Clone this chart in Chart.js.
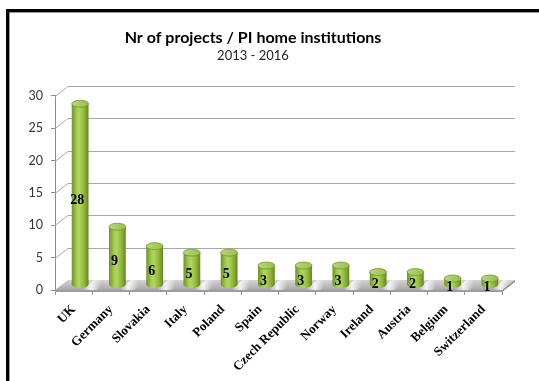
<!DOCTYPE html>
<html>
<head>
<meta charset="utf-8">
<title>Nr of projects / PI home institutions</title>
<script src="https://cdn.jsdelivr.net/npm/chart.js@4.4.0/dist/chart.umd.min.js"></script>
<style>
  html, body { margin: 0; padding: 0; background: #fff; }
  #wrap { position: relative; width: 539px; height: 381px; overflow: hidden; }
  #wrap canvas { position: absolute; left: 0; top: 0; }
  #frame {
    position: absolute; left: 6px; top: 9px; width: 560px; height: 400px;
    border-top: 3px solid #000; border-left: 3px solid #000;
    box-shadow: inset 1px 1px 0 #9a9a9a; pointer-events: none;
  }
</style>
</head>
<body>
<div id="wrap">
  <canvas id="chart" width="539" height="381"></canvas>
  <div id="frame"></div>
</div>
<script>
const countries = ['UK', 'Germany', 'Slovakia', 'Italy', 'Poland', 'Spain',
  'Czech Republic', 'Norway', 'Ireland', 'Austria', 'Belgium', 'Switzerland'];
const projects = [28, 9, 6, 5, 5, 3, 3, 3, 2, 2, 1, 1];
const yMax = 30;
const yStep = 5;

// offset of the back wall relative to the front plane (fake 3D depth)
const depth = { x: 13, y: -10 };
const serif = '"Liberation Serif", "Times New Roman", serif';
const sans = 'Lato, "Open Sans", sans-serif';

const walls = {
  id: 'walls',
  beforeDatasetsDraw(chart) {
    const { ctx, chartArea: a, scales: { y } } = chart;
    ctx.save();

    // side wall diagonals + back wall gridlines
    ctx.strokeStyle = '#a8a8a8';
    ctx.lineWidth = 1;
    y.ticks.forEach(t => {
      if (t.value === 0) return;
      const py = Math.round(y.getPixelForValue(t.value)) + 0.5;
      ctx.beginPath();
      ctx.moveTo(a.left, py);
      ctx.lineTo(a.left + depth.x, py + depth.y);
      ctx.lineTo(a.right + depth.x, py + depth.y);
      ctx.stroke();
    });

    // floor slab
    const b = y.getPixelForValue(0);
    const L = a.left, R = a.right;
    const top = ctx.createLinearGradient(0, b + depth.y, 0, b);
    top.addColorStop(0, '#d4d4d4');
    top.addColorStop(1, '#a8a8a8');
    ctx.beginPath();
    ctx.moveTo(L, b);
    ctx.lineTo(R, b);
    ctx.lineTo(R + depth.x, b + depth.y);
    ctx.lineTo(L + depth.x, b + depth.y);
    ctx.closePath();
    ctx.fillStyle = top;
    ctx.fill();

    // light streaks beside each bar
    const meta = chart.getDatasetMeta(0);
    meta.data.forEach(bar => {
      const { x, width } = bar.getProps(['x', 'width'], true);
      const x0 = x + width / 2 + 1;
      const g = ctx.createLinearGradient(x0, 0, x0 + 18, 0);
      g.addColorStop(0, 'rgba(255,255,255,0)');
      g.addColorStop(0.45, 'rgba(255,255,255,0.85)');
      g.addColorStop(1, 'rgba(255,255,255,0)');
      ctx.beginPath();
      ctx.moveTo(x0 - 2, b);
      ctx.lineTo(x0 + 14, b);
      ctx.lineTo(x0 + 14 + depth.x, b + depth.y);
      ctx.lineTo(x0 - 2 + depth.x, b + depth.y);
      ctx.closePath();
      ctx.fillStyle = g;
      ctx.fill();
    });

    // front and right faces
    ctx.fillStyle = '#9d9d9d';
    ctx.fillRect(L, b, R - L, 2);
    ctx.beginPath();
    ctx.moveTo(R, b);
    ctx.lineTo(R + depth.x, b + depth.y);
    ctx.lineTo(R + depth.x, b + depth.y + 2);
    ctx.lineTo(R, b + 2);
    ctx.closePath();
    ctx.fillStyle = '#8f8f8f';
    ctx.fill();
    ctx.restore();
  },

  afterDatasetsDraw(chart) {
    const { ctx } = chart;
    const meta = chart.getDatasetMeta(0);
    ctx.save();
    meta.data.forEach((bar, i) => {
      const { x, y: yTop, base, width } = bar.getProps(['x', 'y', 'base', 'width'], true);
      const cx = x + depth.x / 2;
      const ty = yTop + depth.y / 2;
      const by = base + depth.y / 2;
      const rx = width / 2, ry = 3.5;

      // cylinder body
      const body = ctx.createLinearGradient(cx - rx, 0, cx + rx, 0);
      body.addColorStop(0, '#6d9324');
      body.addColorStop(0.3, '#a6cc52');
      body.addColorStop(0.45, '#b0d65e');
      body.addColorStop(0.75, '#8fb53d');
      body.addColorStop(1, '#62871c');
      ctx.beginPath();
      ctx.moveTo(cx - rx, ty);
      ctx.lineTo(cx - rx, by);
      ctx.ellipse(cx, by, rx, ry, 0, Math.PI, 0, true);
      ctx.lineTo(cx + rx, ty);
      ctx.closePath();
      ctx.fillStyle = body;
      ctx.fill();

      // cylinder cap
      const cap = ctx.createLinearGradient(cx - rx, ty - ry, cx + rx, ty + ry);
      cap.addColorStop(0, '#bcd97c');
      cap.addColorStop(1, '#96bd46');
      ctx.beginPath();
      ctx.ellipse(cx, ty, rx, ry, 0, 0, Math.PI * 2);
      ctx.fillStyle = cap;
      ctx.fill();
      ctx.strokeStyle = '#6f9628';
      ctx.lineWidth = 0.8;
      ctx.stroke();

      // value label, centred on the front face of the bar
      ctx.font = 'bold 14px ' + serif;
      ctx.fillStyle = '#000';
      ctx.textAlign = 'center';
      ctx.textBaseline = 'middle';
      ctx.fillText(String(projects[i]), x + 3.5, (yTop + base) / 2 + 1);
    });
    ctx.restore();
  }
};

new Chart(document.getElementById('chart'), {
  type: 'bar',
  data: {
    labels: countries,
    datasets: [{
      label: 'Projects',
      data: projects,
      backgroundColor: 'rgba(0,0,0,0)',
      borderWidth: 0,
      barPercentage: 0.45,
      categoryPercentage: 1
    }]
  },
  options: {
    responsive: false,
    animation: false,
    layout: { padding: { left: 4, right: 37, top: 0, bottom: 0 } },
    plugins: {
      legend: { display: false },
      tooltip: { enabled: false },
      title: {
        display: true,
        text: 'Nr of projects / PI home institutions',
        color: '#000',
        font: { family: sans, size: 16, weight: 'bold' },
        padding: { top: 28, bottom: 0 }
      },
      subtitle: {
        display: true,
        text: '2013 - 2016',
        color: '#222',
        font: { family: sans, size: 13 },
        padding: { top: 1, bottom: 32 }
      }
    },
    scales: {
      x: {
        afterFit: s => { s.height = 91; },
        grid: {
          offset: true,
          drawOnChartArea: false,
          drawTicks: true,
          tickLength: 5,
          color: '#9a9a9a'
        },
        border: { display: false },
        ticks: {
          autoSkip: false,
          minRotation: 45,
          maxRotation: 45,
          padding: 7,
          color: '#000',
          font: { family: serif, size: 13, weight: 'bold' }
        }
      },
      y: {
        min: 0,
        max: yMax,
        afterFit: s => { s.width = 51; },
        grid: {
          drawOnChartArea: false,
          drawTicks: true,
          tickLength: 4,
          color: '#8c8c8c'
        },
        border: { display: true, color: '#8c8c8c' },
        ticks: {
          stepSize: yStep,
          padding: 8,
          color: '#333',
          font: { family: sans, size: 12.5 }
        }
      }
    }
  },
  plugins: [walls]
});
</script>
</body>
</html>
